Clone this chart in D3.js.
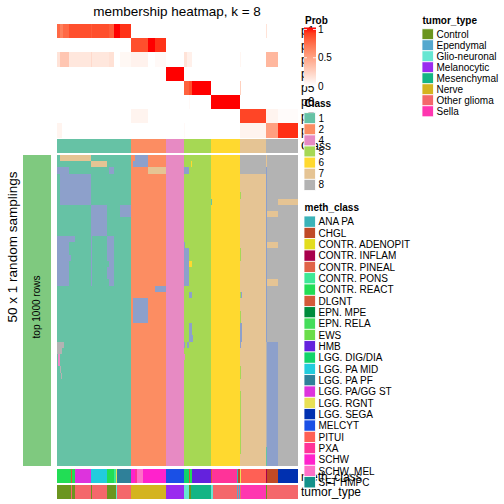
<!DOCTYPE html>
<html><head><meta charset="utf-8">
<script src="https://cdn.jsdelivr.net/npm/d3@7"></script>
<style>body{margin:0;background:#fff}svg{display:block;font-family:"Liberation Sans",Arial,Helvetica,sans-serif}</style>
</head><body><script>
// ---------------- data ----------------
const title = "membership heatmap, k = 8";
const nSamplings = 50;
const classes = [1, 2, 4, 5, 6, 7, 8];
const classCounts = [74, 35, 18, 27, 29, 26, 32]; // samples per class, in column order
const classColors = {1:"#66C2A5",2:"#FC8D62",3:"#8DA0CB",4:"#E78AC3",5:"#A6D854",6:"#FFD92F",7:"#E5C494",8:"#B3B3B3"};
const probRowNames = ["p1","p2","p3","p4","p5","p6","p7","p8"];
// membership probabilities as [firstSample, endSample, prob]
const p1 = [[0,3,0.75],[3,6,0.65],[6,12,0.75],[12,34,0.85],[34,35,0.8],[35,52,0.85],[52,57,0.8],[57,63,1],[63,74,0.93],[209,210,0.15]];
const p2 = [[74,91,0.85],[91,98,1],[98,109,0.93]];
const p3 = [[0,3,0.15],[3,12,0.3],[12,34,0.13],[34,35,0.2],[35,52,0.13],[52,57,0.16],[63,74,0.04],[74,91,0.07],[98,109,0.03],[127,130,0.15],[130,135,0.08],[183,184,0.05],[209,221,0.38]];
const p4 = [[109,127,1]];
const p5 = [[127,132,0.78],[132,135,0.85],[135,154,1],[183,184,0.25]];
const p6 = [[154,183,1],[132,133,0.03]];
const p7 = [[74,91,0.06],[183,209,0.88],[209,221,0.06],[221,241,0.02]];
const p8 = [[0,5,0.06],[127,128,0.03],[183,209,0.06],[209,221,0.5],[221,241,0.94]];
const probRuns = [p1,p2,p3,p4,p5,p6,p7,p8];
// class labels in random samplings that differ from the final class: [firstSample, endSample, firstRow, endRow, class]
const samplingDiffs = [
 [3,34,0,1,7],[34,50,1,2,7],[0,12,2,3,3],[3,34,3,8,3],[52,57,2,3,3],[34,50,8,13,3],[63,74,8,10,3],
 [0,18,13,14,3],[0,12,14,21,3],[0,14,16,17,3],[50,57,13,17,3],[52,57,17,21,3],[50,52,18,20,3],[34,35,13,21,3],
 [78,91,0,1,3],[76,91,1,2,3],[91,109,2,3,7],[127,132,2,3,3],[134,135,1,2,6],
 [127,128,14,15,3],[127,132,15,21,3],[132,135,17,18,6],[98,109,21,22,3],[132,135,22,23,3],
 [76,91,23,27,3],[154,155,7,8,1],[183,184,6,7,5],[183,184,15,17,5],[183,184,22,23,5],[184,185,22,23,3],
 [183,209,0,3,8],[209,210,0,2,7],[209,210,2,30,3],[221,241,7,8,7],[210,221,9,10,7],[210,221,14,15,7],
 [210,221,20,21,7],[183,185,27,30,3],[183,184,30,31,3],[132,135,27,29,3],[132,136,29,30,3],
 [0,7,30,31,8],[0,5,31,32,8],[1,3,32,34,4],[3,4,34,35,8],[4,5,35,36,8],[130,132,30,31,3],[127,128,30,31,3],
 [210,221,30,50,3],[127,128,32,33,4],[183,184,34,36,5],[183,184,38,48,5],[209,210,47,50,1],[183,184,25,27,5]
];
// sample annotations as [firstSample, endSample, label]
const methRuns = [
 [0,14,"CONTR. REACT"],[14,15,"DLGNT"],[15,18,"CONTR. REACT"],[18,34,"LGG. PA/GG ST"],[34,50,"LGG. PA MID"],
 [50,57,"CONTR. REACT"],[57,59,"CONTR. PONS"],[59,60,"LGG. RGNT"],[60,74,"LGG. PA PF"],[74,78,"SCHW"],
 [78,80,"PXA"],[80,86,"SCHW, MEL"],[86,109,"SCHW"],[109,127,"MELCYT"],[127,132,"LGG. DIG/DIA"],
 [132,133,"DLGNT"],[133,135,"CONTR. REACT"],[135,154,"HMB"],[154,155,"DLGNT"],[155,180,"PXA"],
 [180,181,"ANA PA"],[181,183,"CHGL"],[183,184,"LGG. RGNT"],[184,209,"PITUI"],[209,210,"CONTR. INFLAM"],
 [210,221,"CHGL"],[221,241,"LGG. SEGA"]
];
const tumorRuns = [
 [0,14,"Control"],[14,15,"Other glioma"],[15,18,"Control"],[18,34,"Other glioma"],[34,35,"Control"],
 [35,50,"Other glioma"],[50,59,"Control"],[59,60,"Glio-neuronal"],[60,74,"Other glioma"],[74,109,"Nerve"],
 [109,127,"Melanocytic"],[127,132,"Glio-neuronal"],[132,134,"Control"],[134,154,"Mesenchymal"],
 [154,156,"Glio-neuronal"],[156,180,"Other glioma"],[180,181,"Ependymal"],[181,182,"Other glioma"],
 [182,183,"Ependymal"],[183,184,"Other glioma"],[184,209,"Sella"],[209,210,"Control"],[210,241,"Other glioma"]
];
const tumorLevels = ["Control","Ependymal","Glio-neuronal","Melanocytic","Mesenchymal","Nerve","Other glioma","Sella"];
const tumorColors = ["#6B951F","#55A8CE","#66E6D2","#9A2BEF","#14B584","#D4B41F","#F4676B","#FF36B0"];
const methLevels = ["ANA PA","CHGL","CONTR. ADENOPIT","CONTR. INFLAM","CONTR. PINEAL","CONTR. PONS","CONTR. REACT","DLGNT","EPN. MPE","EPN. RELA","EWS","HMB","LGG. DIG/DIA","LGG. PA MID","LGG. PA PF","LGG. PA/GG ST","LGG. RGNT","LGG. SEGA","MELCYT","PITUI","PXA","SCHW","SCHW, MEL","SFT HMPC"];
const methColors = ["#3BB3B8","#C04A26","#E3DD1E","#A8004B","#E06348","#3DE896","#22DD55","#D45A3A","#008C3C","#45DD5A","#6BDD4A","#6422DD","#11D46A","#22CCDD","#2F8099","#DD33DD","#E8E055","#0030B0","#1A50E6","#FF6055","#FF3399","#FF22CC","#FF70C8","#12918A"];
const probTicks = [0, 0.5, 1];

// ---------------- chart ----------------
const W = 504, H = 504;
const svg = d3.select("body").append("svg").attr("width", W).attr("height", H);
const N = d3.sum(classCounts);
const x = d3.scaleLinear().domain([0, N]).range([57, 298]);
const yProb = d3.scaleBand().domain(probRowNames).range([24, 137.5]);
const yMain = d3.scaleLinear().domain([0, nSamplings]).range([155, 466]);
const probColor = d3.scaleLinear().domain([0, 1]).range(["#FFFFFF", "#FF0000"]).interpolate(d3.interpolateLab);
const tumorColor = d3.scaleOrdinal().domain(tumorLevels).range(tumorColors);
const methColor = d3.scaleOrdinal().domain(methLevels).range(methColors);

// class of each sample
const sampleClass = [];
classes.forEach((c, i) => { for (let k = 0; k < classCounts[i]; k++) sampleClass.push(c); });

const g = svg.append("g").attr("shape-rendering", "crispEdges");

// title
svg.append("text").attr("x", 177).attr("y", 16).attr("text-anchor", "middle")
  .attr("font-size", 13.5).text(title);

// probability heatmap
probRuns.forEach((runs, ri) => {
  const vals = new Array(N).fill(0);
  runs.forEach(([a, b, v]) => { for (let k = a; k < b; k++) vals[k] = v; });
  g.append("g").selectAll("rect").data(vals).join("rect")
    .attr("x", (d, k) => x(k)).attr("width", (d, k) => x(k + 1) - x(k))
    .attr("y", yProb(probRowNames[ri])).attr("height", yProb.bandwidth())
    .attr("fill", d => probColor(d));
});
// row names (partly hidden by legends)
svg.append("g").selectAll("text").data(probRowNames).join("text")
  .attr("x", 301).attr("y", d => yProb(d) + yProb.bandwidth() / 2 + 4.3)
  .attr("font-size", 12).text(d => d);

// class annotation bar
const classRuns = [];
let acc = 0;
classes.forEach((c, i) => { classRuns.push([acc, acc + classCounts[i], c]); acc += classCounts[i]; });
g.append("g").selectAll("rect").data(classRuns).join("rect")
  .attr("x", d => x(d[0])).attr("width", d => x(d[1]) - x(d[0]))
  .attr("y", 138.5).attr("height", 14).attr("fill", d => classColors[d[2]]);
svg.append("text").attr("x", 301).attr("y", 149.5).attr("font-size", 12).text("Class");

// sampling heatmap: build run segments per row
const grid = d3.range(nSamplings).map(() => sampleClass.slice());
samplingDiffs.forEach(([a, b, r0, r1, c]) => {
  for (let r = r0; r < r1; r++) for (let k = a; k < b; k++) grid[r][k] = c;
});
const segs = [];
grid.forEach((row, r) => {
  let s = 0;
  for (let k = 1; k <= N; k++) {
    if (k === N || row[k] !== row[s]) { segs.push([s, k, r, row[s]]); s = k; }
  }
});
g.append("g").selectAll("rect").data(segs).join("rect")
  .attr("x", d => x(d[0])).attr("width", d => x(d[1]) - x(d[0]))
  .attr("y", d => yMain(d[2])).attr("height", d => yMain(d[2] + 1) - yMain(d[2]))
  .attr("fill", d => classColors[d[3]]);

// left split bar
g.append("rect").attr("x", 23).attr("y", yMain(0)).attr("width", 28)
  .attr("height", yMain(nSamplings) - yMain(0)).attr("fill", "#7FC97F");
svg.append("text").attr("transform", "translate(40,307) rotate(-90)")
  .attr("text-anchor", "middle").attr("font-size", 10).text("top 1000 rows");
svg.append("text").attr("transform", "translate(17,247) rotate(-90)")
  .attr("text-anchor", "middle").attr("font-size", 13.5).text("50 x 1 random samplings");

// bottom annotations
g.append("g").selectAll("rect").data(methRuns).join("rect")
  .attr("x", d => x(d[0])).attr("width", d => x(d[1]) - x(d[0]))
  .attr("y", 469).attr("height", 14).attr("fill", d => methColor(d[2]));
g.append("g").selectAll("rect").data(tumorRuns).join("rect")
  .attr("x", d => x(d[0])).attr("width", d => x(d[1]) - x(d[0]))
  .attr("y", 484.5).attr("height", 14.5).attr("fill", d => tumorColor(d[2]));
svg.append("text").attr("x", 301).attr("y", 480.5).attr("font-size", 12).text("meth_class");
svg.append("text").attr("x", 301).attr("y", 496).attr("font-size", 12).text("tumor_type");

// ---------------- legends ----------------
function legendTitle(xp, yp, t) {
  svg.append("text").attr("x", xp).attr("y", yp).attr("font-size", 10)
    .attr("font-weight", "bold").text(t);
}
// Prob color bar
legendTitle(305, 24, "Prob");
const defs = svg.append("defs");
const grad = defs.append("linearGradient").attr("id", "pg").attr("x1", 0).attr("x2", 0).attr("y1", 1).attr("y2", 0);
d3.range(0, 1.01, 0.1).forEach(v => grad.append("stop").attr("offset", v).attr("stop-color", probColor(v)));
const yLeg = d3.scaleLinear().domain([0, 1]).range([86, 29.5]);
svg.append("rect").attr("x", 304).attr("y", 27.5).attr("width", 12).attr("height", 58.5).attr("fill", "url(#pg)");
const tk = svg.append("g").selectAll("g").data(probTicks).join("g");
tk.append("line").attr("x1", 304).attr("x2", 307).attr("y1", d => yLeg(d)).attr("y2", d => yLeg(d)).attr("stroke", "#fff").attr("stroke-width", 0.8);
tk.append("line").attr("x1", 313).attr("x2", 316).attr("y1", d => yLeg(d)).attr("y2", d => yLeg(d)).attr("stroke", "#fff").attr("stroke-width", 0.8);
tk.append("text").attr("x", 318).attr("y", d => yLeg(d) + 3.6).attr("font-size", 10).text(d => d3.format("")(d));

// discrete legends
function discreteLegend(xp, yTitle, yStart, pitch, t, labels, colorFn) {
  legendTitle(xp, yTitle, t);
  const it = svg.append("g").selectAll("g").data(labels).join("g");
  it.append("rect").attr("x", xp - 0.5).attr("y", (d, i) => yStart + i * pitch)
    .attr("width", 11.5).attr("height", pitch).attr("fill", d => colorFn(d))
    .attr("stroke", "#fff").attr("stroke-width", 0.8);
  it.append("text").attr("x", xp + 14).attr("y", (d, i) => yStart + i * pitch + pitch / 2 + 3.6)
    .attr("font-size", 10).text(d => d);
}
discreteLegend(304.5, 107, 112.7, 11.1, "Class", classes.map(String), d => classColors[d]);
discreteLegend(422.5, 24, 28.8, 11, "tumor_type", tumorLevels, tumorColor);
discreteLegend(304.5, 211, 216, 11.33, "meth_class", methLevels, methColor);
</script></body></html>
